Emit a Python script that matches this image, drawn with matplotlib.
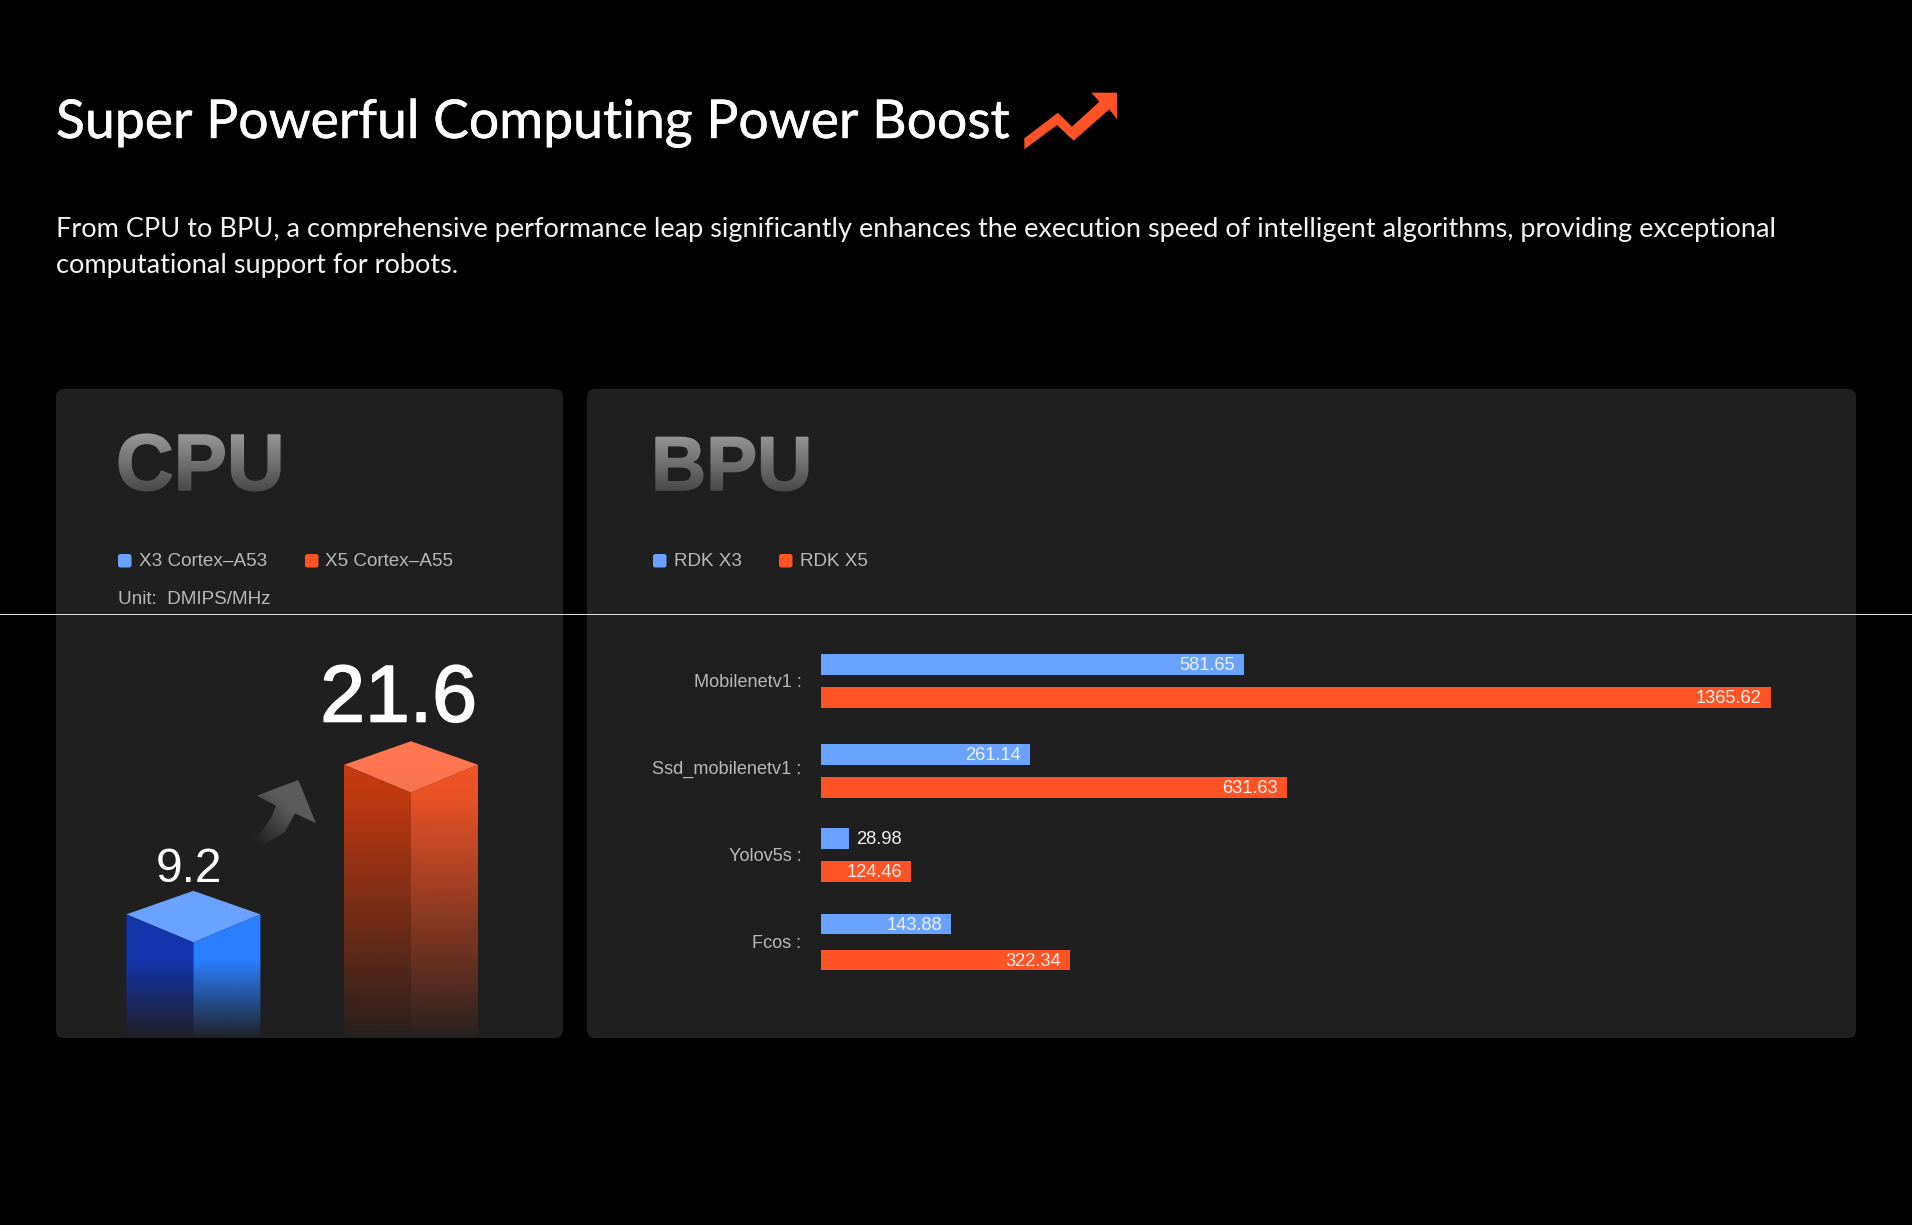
import numpy as np
import matplotlib
matplotlib.use('Agg')
import matplotlib.pyplot as plt
import matplotlib.patheffects as pe
from matplotlib.colors import to_rgb
from matplotlib.patches import FancyBboxPatch, Polygon, Rectangle

# data
models = ['Mobilenetv1 :', 'Ssd_mobilenetv1 :', 'Yolov5s :', 'Fcos :']
x3_labels = ['581.65', '261.14', '28.98', '143.88']
x5_labels = ['1365.62', '631.63', '124.46', '322.34']
# drawn bar lengths, % of longest bar (the picture is not to scale with the labels)
x3_lengths = [44.5, 22.0, 3.0, 13.7]
x5_lengths = [100.0, 49.1, 9.5, 26.2]

cpu_names = ['X3 Cortex\u2013A53', 'X5 Cortex\u2013A55']
cpu_values = [9.2, 21.6]
bpu_names = ['RDK X3', 'RDK X5']

W, H = 1912, 1225
BLUE = '#69a3ff'
ORANGE = '#ff5326'
PANEL = '#1f1f1f'
GREY = '#b9b9b9'
HEAD_FONT = 'Lato'
BODY_FONT = 'Liberation Sans'

fig = plt.figure(figsize=(W / 100, H / 100), dpi=100, facecolor='black')

# page axes, coordinates are pixels
page = fig.add_axes([0, 0, 1, 1])
page.set_xlim(0, W)
page.set_ylim(H, 0)
page.axis('off')


def panel(x0, x1, y0, y1):
    page.add_patch(FancyBboxPatch((x0, y0), x1 - x0, y1 - y0, fc=PANEL, ec='none',
                                  boxstyle='round,pad=0,rounding_size=8'))


def fade(ax, extent, stops, clip=None, zorder=5):
    # panel coloured overlay, alpha goes down the stops (0 = top of extent)
    f = np.linspace(0, 1, 256)
    img = np.zeros((256, 1, 4))
    img[:, 0, :3] = to_rgb(PANEL)
    img[:, 0, 3] = np.interp(f, [s[0] for s in stops], [s[1] for s in stops])
    im = ax.imshow(img, extent=extent, origin='upper', aspect='auto', zorder=zorder)
    if clip is not None:
        im.set_clip_path(clip)
    return im


def small(x, y, s, color=GREY, size=13.6):
    page.text(x, y, s, color=color, fontsize=size, family=BODY_FONT, va='center', ha='left')


def swatch(x, y, color):
    page.add_patch(FancyBboxPatch((x, y), 13.5, 13.5, fc=color, ec='none',
                                  boxstyle='round,pad=0,rounding_size=2.5'))


page.text(56, 138, 'Super Powerful Computing Power Boost', color='white', fontsize=38.5,
          family=HEAD_FONT, va='baseline', path_effects=[pe.withStroke(linewidth=0.35, foreground='white')])
page.add_patch(Polygon([(1024.3, 149.3), (1057, 125), (1073.6, 140.7), (1109.3, 109.3), (1117, 119.3),
                        (1117, 92.7), (1091.4, 92.7), (1099.3, 101.7), (1072, 126.7), (1057.9, 112.7),
                        (1024.3, 138.3)], fc=ORANGE, ec='none'))
page.text(56, 229, 'From CPU to BPU, a comprehensive performance leap significantly enhances the '
          'execution speed of intelligent algorithms, providing exceptional',
          color='#f2f2f2', fontsize=19.49, family=HEAD_FONT, va='center')
page.text(56, 266, 'computational support for robots.', color='#f2f2f2', fontsize=19.49,
          family=HEAD_FONT, va='center')

panel(56, 563, 389, 1038)
panel(587, 1856, 389, 1038)

# headings, grey text with a fade laid over it
head_fx = [pe.withStroke(linewidth=1.2, foreground='#a0a0a0')]
page.text(116, 490, 'CPU', color='#a0a0a0', fontsize=57.5, family=BODY_FONT, weight='bold', va='baseline',
          path_effects=head_fx)
page.text(651, 490, 'BPU', color='#a0a0a0', fontsize=55, family=BODY_FONT, weight='bold', va='baseline',
          path_effects=head_fx)
fade(page, (100, 320, 495, 428), [(0, 0), (1, 0.72)])
fade(page, (640, 840, 495, 428), [(0, 0), (1, 0.72)])

swatch(118, 554, BLUE)
small(139, 562, cpu_names[0])
swatch(305, 554, ORANGE)
small(325, 562, cpu_names[1])
small(118, 599.5, 'Unit:  DMIPS/MHz')
swatch(653, 554, BLUE)
small(674, 562, bpu_names[0])
swatch(779, 554, ORANGE)
small(800, 562, bpu_names[1])

# arrow between the two cpu bars
arrow = Polygon([(246.7, 843), (266.7, 843), (285, 831.7), (295, 813.3), (316, 823.3), (298.3, 780),
                 (256.7, 795.7), (276, 805.7), (271.7, 816.7), (263, 830)],
                transform=page.transData, fc='none', ec='none')
page.add_patch(arrow)
g = np.linspace(0, 1, 128)
gx, gy = np.meshgrid(g, g)
arrow_img = np.zeros((128, 128, 4))
arrow_img[..., :3] = to_rgb('#5c5c5c')
arrow_img[..., 3] = np.clip(((gx + (1 - gy)) / 2 - 0.08) * 1.9, 0, 1)
im = page.imshow(arrow_img, extent=(243, 316, 843, 780), origin='upper', aspect='auto', zorder=3)
im.set_clip_path(arrow)

# cpu cuboids
PX_PER_UNIT = 12.06
ax_cpu = fig.add_axes([56 / W, 1 - 1038 / H, 507 / W, 418 / H])
ax_cpu.axis('off')
bar_left = [126.4, 344]
bar_w = 134
apex_up = 23.5 / PX_PER_UNIT
front_down = 28 / PX_PER_UNIT
y_min, y_max = -1.05, 33.6
faces = [('#1434ac', '#2b7fff', '#6aa3ff', [(0, 0), (0.37, 0), (0.97, 0.92), (1, 1)]),
         ('#c63a10', '#f25427', '#ff7650', [(0, 0), (0.12, 0.05), (0.97, 0.92), (1, 1)])]
label_size = [34.5, 58]
label_off = [(-3, -1), (-9, 2)]
label_fx = [[], [pe.withStroke(linewidth=1.2, foreground='white')]]
for i, val in enumerate(cpu_values):
    left = bar_left[i]
    c_l, c_r, c_t, stops = faces[i]
    xc = left + bar_w / 2
    x1 = left + bar_w
    top = Polygon([(left, val), (xc, val + apex_up), (x1, val), (xc, val - front_down)], fc=c_t, ec='none')
    ax_cpu.add_patch(top)
    lf = Polygon([(left, val), (xc, val - front_down), (xc, y_min), (left, y_min)], fc=c_l, ec='none')
    rf = Polygon([(xc, val - front_down), (x1, val), (x1, y_min), (xc, y_min)], fc=c_r, ec='none')
    ax_cpu.add_patch(lf)
    ax_cpu.add_patch(rf)
    fade(ax_cpu, (left - 1, x1 + 1, y_min, val), stops, zorder=5)
    ax_cpu.annotate(str(val), (xc, val + apex_up), xytext=label_off[i], textcoords='offset points', ha='center',
                    va='bottom', color='white', fontsize=label_size[i], family=BODY_FONT,
                    path_effects=label_fx[i])
ax_cpu.set_xlim(56, 563)
ax_cpu.set_ylim(y_min, y_max)

# bpu bars, y axis runs in pixel rows
ax_bpu = fig.add_axes([821 / W, 1 - 1000 / H, 949.6 / W, 380 / H])
ax_bpu.set_xlim(0, 100)
ax_bpu.set_ylim(1000, 620)
ax_bpu.axis('off')
row_x3 = [664.6, 754.5, 838.3, 924]
row_x5 = [697.6, 787.3, 871.5, 960]
row_name = [682, 769.5, 856.5, 943.5]
ax_bpu.barh(row_x3, x3_lengths, height=20.6, color=BLUE)
ax_bpu.barh(row_x5, x5_lengths, height=20.6, color=ORANGE)
for i, name in enumerate(models):
    ax_bpu.annotate(name, (0, row_name[i]), xytext=(-14, 0), textcoords='offset points', ha='right',
                    va='center', color=GREY, fontsize=13.1, family=BODY_FONT)
    for row, length, lab in [(row_x3[i], x3_lengths[i], x3_labels[i]), (row_x5[i], x5_lengths[i], x5_labels[i])]:
        if length < 5:
            ax_bpu.annotate(lab, (length, row + 1.2), xytext=(5, 0), textcoords='offset points', ha='left',
                            va='center', color='#f0f0f0', fontsize=13.2, family=BODY_FONT)
        else:
            ax_bpu.annotate(lab, (length, row + 1.2), xytext=(-6.5, 0), textcoords='offset points', ha='right',
                            va='center', color='#f0f0f0', fontsize=13.2, family=BODY_FONT)

# thin white rule across the page, above everything
fig.add_artist(Rectangle((0, 1 - 615 / H), 1, 1 / H, transform=fig.transFigure, fc='#dcdcdc', ec='none'))

fig.savefig('out.png', dpi=100, facecolor='black')
